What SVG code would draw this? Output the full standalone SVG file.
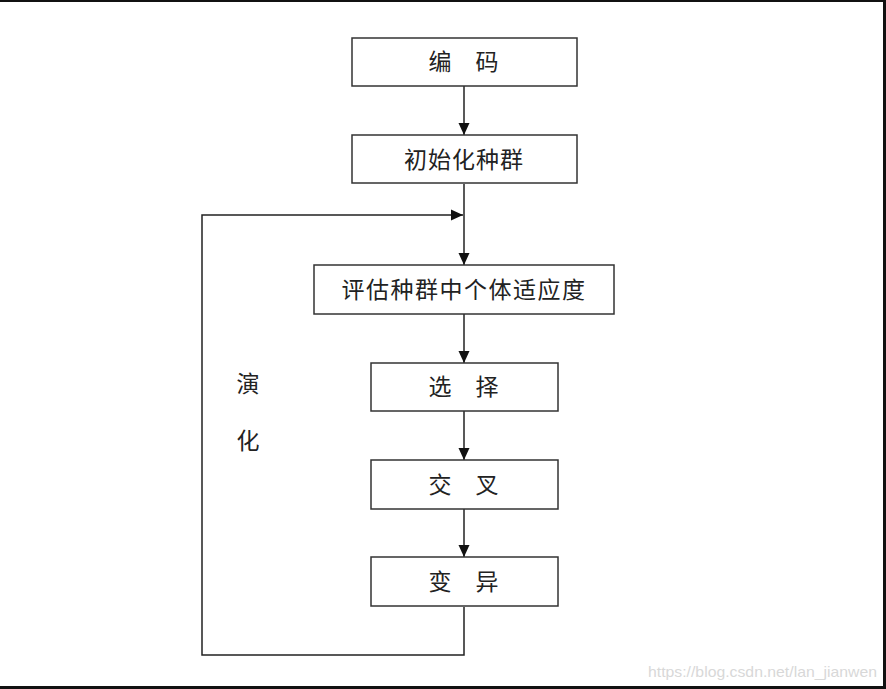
<svg xmlns="http://www.w3.org/2000/svg" width="886" height="689" viewBox="0 0 886 689">
<style>
.box{fill:#fff;stroke:#333;stroke-width:1.5}
.t{font-family:"Noto Sans CJK SC","Noto Sans CJK TC",sans-serif;font-size:23px;fill:#222;text-anchor:middle}
.ln{fill:none;stroke:#222;stroke-width:1.5}
</style>
<defs>
<marker id="ah" viewBox="0 0 12 12" refX="12" refY="6" markerWidth="12" markerHeight="12" markerUnits="userSpaceOnUse" orient="auto">
<path d="M0,0.5 L12,6 L0,11.5 z" fill="#111"/>
</marker>
</defs>
<rect x="0" y="0" width="886" height="689" fill="#fff"/>
<rect x="0" y="0" width="886" height="2" fill="#111"/>
<rect x="883" y="0" width="3" height="689" fill="#111"/>
<rect x="0" y="686" width="886" height="3" fill="#111"/>
<g id="connectors">
<line class="ln" x1="464" y1="86" x2="464" y2="135" marker-end="url(#ah)"/>
<line class="ln" x1="464" y1="184" x2="464" y2="265" marker-end="url(#ah)"/>
<line class="ln" x1="464" y1="314" x2="464" y2="363" marker-end="url(#ah)"/>
<line class="ln" x1="464" y1="411" x2="464" y2="460" marker-end="url(#ah)"/>
<line class="ln" x1="464" y1="509" x2="464" y2="557" marker-end="url(#ah)"/>
<polyline class="ln" points="464,607 464,655 202,655 202,215 463,215" marker-end="url(#ah)"/>
</g>
<g id="n1"><rect class="box" x="352" y="38" width="225" height="48"/><text class="t" y="70"><tspan x="440">编</tspan><tspan x="487">码</tspan></text></g>
<g id="n2"><rect class="box" x="352" y="135" width="225" height="48"/><text class="t" x="464" y="168" letter-spacing="1">初始化种群</text></g>
<g id="n3"><rect class="box" x="314" y="265" width="300" height="49"/><text class="t" x="464" y="298" letter-spacing="1.5">评估种群中个体适应度</text></g>
<g id="n4"><rect class="box" x="371" y="363" width="187" height="48"/><text class="t" y="395"><tspan x="440">选</tspan><tspan x="487">择</tspan></text></g>
<g id="n5"><rect class="box" x="371" y="460" width="187" height="49"/><text class="t" y="493"><tspan x="440">交</tspan><tspan x="487">叉</tspan></text></g>
<g id="n6"><rect class="box" x="371" y="557" width="187" height="49"/><text class="t" y="590"><tspan x="440">变</tspan><tspan x="487">异</tspan></text></g>
<g id="label"><text class="t" x="248" y="392">演</text><text class="t" x="248" y="449">化</text></g>
<text x="648" y="677" font-family="Liberation Sans, sans-serif" font-size="15" fill="#d8d8d8" textLength="229" lengthAdjust="spacingAndGlyphs">https://blog.csdn.net/lan_jianwen</text>
</svg>
